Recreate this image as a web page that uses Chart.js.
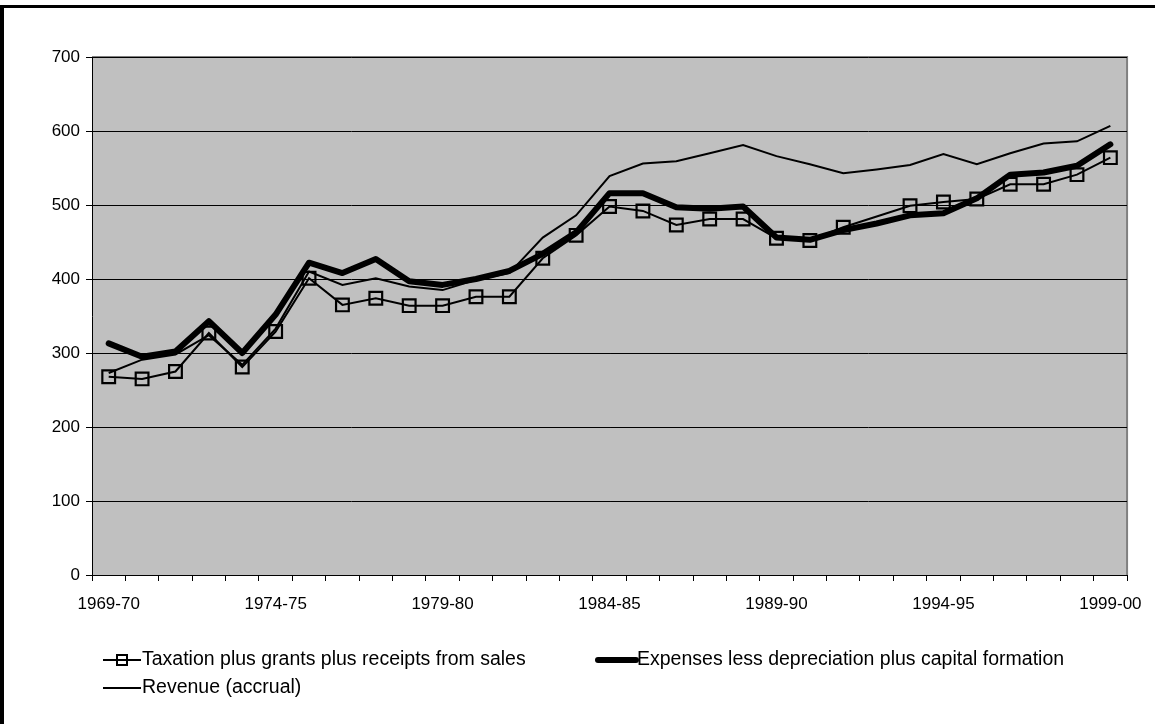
<!DOCTYPE html>
<html>
<head>
<meta charset="utf-8">
<script src="https://cdn.jsdelivr.net/npm/chart.js@4.4.1/dist/chart.umd.min.js"></script>
<style>
  html, body { margin: 0; padding: 0; background: #ffffff; }
  #wrap { position: relative; width: 1155px; height: 724px; }
</style>
</head>
<body>
<div id="wrap"><canvas id="chart" width="1155" height="724"></canvas></div>
<script>
// Financial years shown on the category axis
const categories = [
  '1969-70','1970-71','1971-72','1972-73','1973-74','1974-75','1975-76','1976-77',
  '1977-78','1978-79','1979-80','1980-81','1981-82','1982-83','1983-84','1984-85',
  '1985-86','1986-87','1987-88','1988-89','1989-90','1990-91','1991-92','1992-93',
  '1993-94','1994-95','1995-96','1996-97','1997-98','1998-99','1999-00'
];

// Taxation plus grants plus receipts from sales (no figure for 1992-93)
const taxation = [268, 265, 275, 327, 281, 329, 401, 365, 374, 364, 364, 376, 376, 428, 459, 498,
                  492, 473, 481, 481, 455, 452, 470, null, 499, 504, 508, 528, 528, 541, 564];

// Expenses less depreciation plus capital formation
const expenses = [313, 295, 302, 343, 300, 352, 422, 408, 427, 397, 392, 400, 411, 434, 463, 516,
                  516, 497, 495, 498, 456, 453, 466, 475, 486, 489, 509, 541, 544, 553, 582];

// Revenue (accrual)
const revenue = [273, 291, 298, 324, 284, 333, 410, 392, 401, 390, 385, 399, 408, 456, 486, 539,
                 556, 559, 570, 581, 566, 555, 543, 548, 554, 569, 555, 570, 583, 586, 607];

const seriesNames = [
  'Taxation plus grants plus receipts from sales',
  'Expenses less depreciation plus capital formation',
  'Revenue (accrual)'
];

const yTicks = [0, 100, 200, 300, 400, 500, 600, 700];
const labelEvery = 5;

const FONT = "'Liberation Sans', Arial, sans-serif";
const FONT_SIZE = 17;
const LEGEND_FONT_SIZE = 19.5;

// Grey plot area, its frame and the black outer frame
const backdrop = {
  id: 'backdrop',
  beforeDraw(chart) {
    const { ctx, chartArea: a } = chart;
    ctx.save();
    ctx.fillStyle = '#000000';
    ctx.fillRect(0, 5, chart.width, 3);
    ctx.fillRect(0, 5, 4, chart.height - 5);
    ctx.fillStyle = '#c0c0c0';
    ctx.fillRect(a.left, a.top, a.right - a.left, a.bottom - a.top);
    ctx.strokeStyle = '#808080';
    ctx.lineWidth = 2;
    ctx.beginPath();
    ctx.moveTo(a.left, a.top);
    ctx.lineTo(a.right, a.top);
    ctx.lineTo(a.right, a.bottom);
    ctx.stroke();
    ctx.restore();
  }
};

// Legend laid out in two rows below the axis
const bottomLegend = {
  id: 'bottomLegend',
  afterDraw(chart) {
    const { ctx } = chart;
    const ds = chart.data.datasets;
    const items = [
      { i: 0, x: 103, y: 660 },
      { i: 1, x: 598, y: 660 },
      { i: 2, x: 103, y: 688 }
    ];
    ctx.save();
    ctx.font = LEGEND_FONT_SIZE + 'px ' + FONT;
    ctx.textBaseline = 'middle';
    ctx.textAlign = 'left';
    items.forEach(it => {
      const d = ds[it.i];
      const len = 38;
      ctx.strokeStyle = d.borderColor;
      ctx.lineWidth = d.borderWidth;
      ctx.lineCap = d.borderWidth > 3 ? 'round' : 'butt';
      ctx.beginPath();
      ctx.moveTo(it.x, it.y);
      ctx.lineTo(it.x + len, it.y);
      ctx.stroke();
      if (d.pointRadius > 0) {
        ctx.lineWidth = 2;
        ctx.strokeRect(it.x + len / 2 - 5, it.y - 5, 10, 10);
      }
      ctx.fillStyle = '#000000';
      ctx.fillText(d.label, it.x + len + 1, it.y);
    });
    ctx.restore();
  }
};

new Chart(document.getElementById('chart'), {
  type: 'line',
  data: {
    labels: categories,
    datasets: [
      {
        label: seriesNames[0],
        data: taxation,
        borderColor: '#000000',
        borderWidth: 2,
        pointStyle: 'rect',
        pointRadius: 9,
        pointBorderWidth: 2.2,
        pointBorderColor: '#000000',
        pointBackgroundColor: 'rgba(0,0,0,0)',
        spanGaps: true,
        tension: 0
      },
      {
        label: seriesNames[1],
        data: expenses,
        borderColor: '#000000',
        borderWidth: 6,
        borderJoinStyle: 'round',
        borderCapStyle: 'round',
        pointRadius: 0,
        tension: 0
      },
      {
        label: seriesNames[2],
        data: revenue,
        borderColor: '#000000',
        borderWidth: 2,
        pointRadius: 0,
        tension: 0
      }
    ]
  },
  options: {
    responsive: false,
    devicePixelRatio: 1,
    animation: false,
    events: [],
    layout: { padding: { left: 0, top: 57, right: 27, bottom: 0 } },
    plugins: {
      legend: { display: false },
      tooltip: { enabled: false },
      title: { display: false }
    },
    scales: {
      x: {
        type: 'category',
        offset: true,
        grid: {
          offset: true,
          drawOnChartArea: false,
          drawTicks: true,
          tickLength: 6,
          color: '#000000',
          lineWidth: 1
        },
        border: { display: true, color: '#000000', width: 1 },
        ticks: {
          autoSkip: false,
          maxRotation: 0,
          minRotation: 0,
          padding: 13,
          color: '#000000',
          font: { family: FONT, size: FONT_SIZE },
          callback: (v, i) => (i % labelEvery === 0 ? categories[i] : '')
        },
        afterFit(scale) { scale.height = 149; }
      },
      y: {
        min: yTicks[0],
        max: yTicks[yTicks.length - 1],
        afterBuildTicks(scale) { scale.ticks = yTicks.map(v => ({ value: v })); },
        grid: {
          drawOnChartArea: true,
          drawTicks: true,
          tickLength: 6,
          color: '#000000',
          lineWidth: 1
        },
        border: { display: true, color: '#000000', width: 1 },
        ticks: {
          padding: 6,
          color: '#000000',
          font: { family: FONT, size: FONT_SIZE }
        },
        afterFit(scale) { scale.width = 92; }
      }
    }
  },
  plugins: [backdrop, bottomLegend]
});
</script>
</body>
</html>
